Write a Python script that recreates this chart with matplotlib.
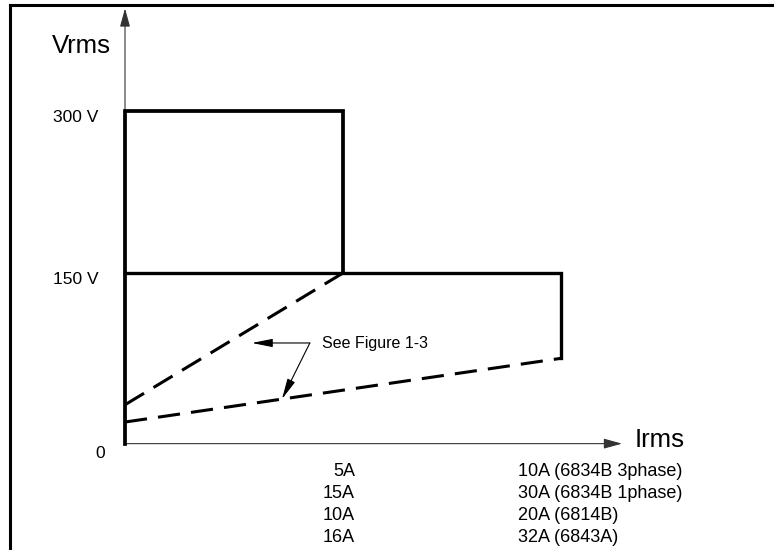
import numpy as np
import matplotlib
matplotlib.use("Agg")
import matplotlib.pyplot as plt
from matplotlib.lines import Line2D

plt.rcParams['font.family'] = ['Liberation Sans', 'DejaVu Sans']
plt.rcParams['lines.scale_dashes'] = False

# operating envelope (6834B 3phase numbers, in A and Vrms)
i_knee = 5.0
i_max = 10.0
v_high = 300
v_low = 150
v_dash_start = [28, 12]      # where the dashed limits meet the V axis
v_dash_end = [150, 71]       # at i_knee and i_max
baseline = -8                # x axis drawn a little under 0 V
x_tip = 11.4
y_tip = 395

tick_values = [300, 150]
tick_labels = ["300 V", "150 V"]
low_labels = ["5A", "15A", "10A", "16A"]
high_labels = ["10A (6834B 3phase)", "30A (6834B 1phase)", "20A (6814B)", "32A (6843A)"]

# pixel layout of the figure
W, H = 774, 550
px0, px_per_a = 125, 43.6
py0, py_per_v = 435, 1.08

fig = plt.figure(figsize=(W / 100, H / 100), dpi=100)
ax = fig.add_axes([0, 0, 1, 1])
ax.axis('off')
ax.set_xlim(-px0 / px_per_a, (W - px0) / px_per_a)
ax.set_ylim(-(H - py0) / py_per_v, py0 / py_per_v)

# frame (left and top only)
fx, fy = 10 / W, 1 - 5 / H
fig.add_artist(Line2D([fx, fx], [0, fy], transform=fig.transFigure, color='black', lw=2.2))
fig.add_artist(Line2D([fx, 1], [fy, fy], transform=fig.transFigure, color='black', lw=2.2))

# axes with arrows
arr = dict(arrowstyle='-|>,head_length=0.8,head_width=0.22', color='#333333', lw=0.8,
           mutation_scale=14, shrinkA=0, shrinkB=0)
ax.annotate('', xy=(0, y_tip), xytext=(0, baseline), arrowprops=arr)
ax.annotate('', xy=(x_tip, baseline), xytext=(0, baseline), arrowprops=arr)

# solid envelope
ax.plot([0, 0, i_knee, i_knee], [baseline, v_high, v_high, v_low], color='black', lw=2.7,
        solid_joinstyle='miter', zorder=3)
ax.plot([0, i_max, i_max], [v_low, v_low, v_dash_end[1]], color='black', lw=2.4,
        solid_joinstyle='miter', zorder=3)

# dashed limits
ax.plot([0, i_knee], [v_dash_start[0], v_dash_end[0]], color='black', lw=2.2,
        linestyle=(0, (16, 8)), zorder=3)
ax.plot([0, i_max], [v_dash_start[1], v_dash_end[1]], color='black', lw=2.2,
        linestyle=(0, (16, 8)), zorder=3)

# axis titles
ax.annotate("Vrms", xy=(0, y_tip), xytext=(-73, -45), textcoords='offset pixels',
            fontsize=18.5, va='baseline', ha='left')
ax.annotate("Irms", xy=(x_tip, baseline), xytext=(13, -3), textcoords='offset pixels',
            fontsize=18.5, va='baseline', ha='left')

# voltage ticks
for v, lab in zip(tick_values, tick_labels):
    ax.annotate(lab, xy=(0, v), xytext=(-72, -11), textcoords='offset pixels',
                fontsize=12.5, va='baseline', ha='left')
ax.annotate("0", xy=(0, baseline), xytext=(-25, -14), textcoords='offset pixels',
            fontsize=12.5, va='baseline', ha='center')

# current labels below the axis
for k, (lo, hi) in enumerate(zip(low_labels, high_labels)):
    dy = -32 - 22 * k
    ax.annotate(lo, xy=(i_knee, baseline), xytext=(12, dy), textcoords='offset pixels',
                fontsize=13, va='baseline', ha='right')
    ax.annotate(hi, xy=(i_max, baseline), xytext=(-43, dy), textcoords='offset pixels',
                fontsize=13, va='baseline', ha='left')

# callout
call_x, call_v = 4.24, 85.2
ax.text(4.52, 80.6, "See Figure 1-3", fontsize=11.5, va='baseline', ha='left')
thin = dict(arrowstyle='-|>,head_length=0.9,head_width=0.18', color='black', lw=0.8,
            mutation_scale=14, shrinkA=0, shrinkB=0)
ax.annotate('', xy=(2.91, call_v), xytext=(call_x, call_v), arrowprops=thin)
tip_x = 3.6
tip_v = np.interp(tip_x, [0, i_max], [v_dash_start[1], v_dash_end[1]])
ax.annotate('', xy=(tip_x, tip_v), xytext=(call_x, call_v), arrowprops=thin)

fig.savefig("out.png", dpi=100)
